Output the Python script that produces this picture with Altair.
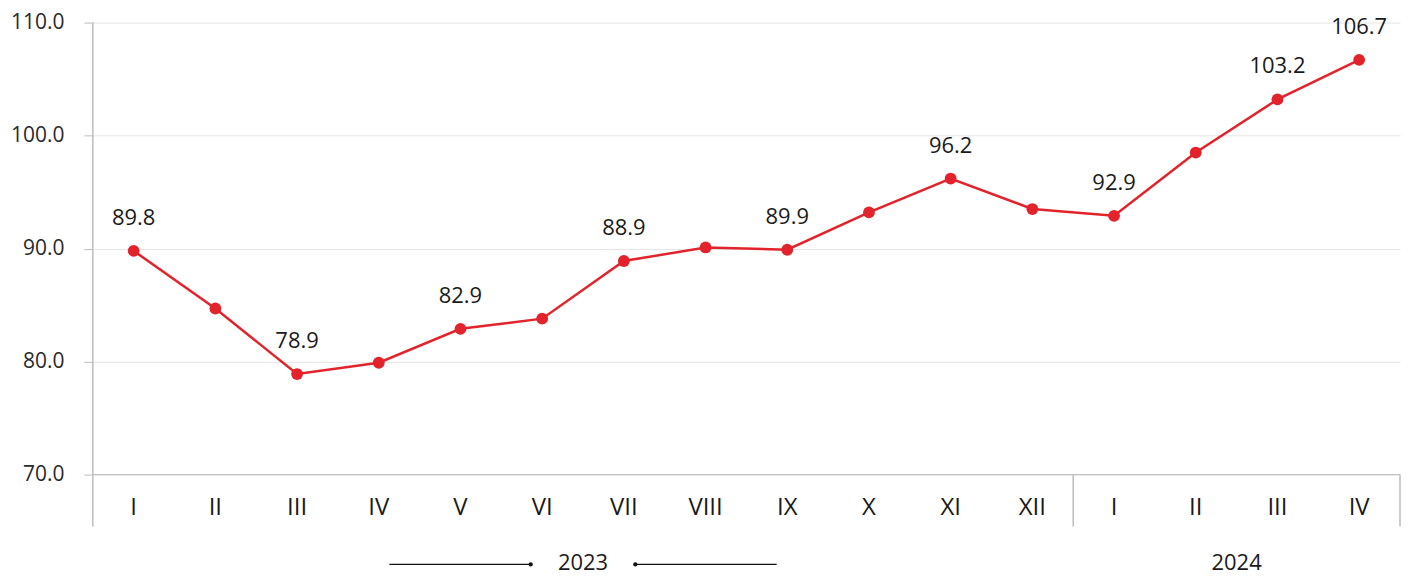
import altair as alt
import pandas as pd

months = ["I", "II", "III", "IV", "V", "VI", "VII", "VIII", "IX", "X", "XI", "XII",
          "I", "II", "III", "IV"]
values = [89.8, 84.7, 78.9, 79.9, 82.9, 83.8, 88.9, 90.1, 89.9, 93.2, 96.2, 93.5,
          92.9, 98.5, 103.2, 106.7]
labeled = [True, False, True, False, True, False, True, False, True, False, True, False,
           True, False, True, True]
year_labels = ["2023", "2024"]
year_counts = [12, 4]
y_ticks = [70, 80, 90, 100, 110]

W, H = 1310, 453
RED = "#E3232B"
FONT = "Open Sans"
GRID = "#bdbdbd"

df = pd.DataFrame({
    "pos": [i + 0.5 for i in range(len(months))],
    "month": months,
    "value": values,
})
ldf = df[[bool(b) for b in labeled]].reset_index(drop=True)

starts, s = [], 0
for c in year_counts:
    starts.append(s)
    s += c
ydf = pd.DataFrame({
    "year": year_labels,
    "start": starts,
    "end": [a + c for a, c in zip(starts, year_counts)],
    "center": [a + c / 2 for a, c in zip(starts, year_counts)],
})

xscale = alt.Scale(domain=[0, sum(year_counts)], nice=False, zero=False)
yscale = alt.Scale(domain=[y_ticks[0], y_ticks[-1]], nice=False, zero=False)

line = alt.Chart(df).mark_line(color=RED, strokeWidth=2.5).encode(
    x=alt.X("pos:Q", scale=xscale, axis=None),
    y=alt.Y("value:Q", scale=yscale, title=None,
            axis=alt.Axis(values=y_ticks, format=".1f", grid=True, gridColor="#e4e4e4",
                          gridWidth=1, domain=False, ticks=True, tickSize=9,
                          tickColor=GRID, labelFont=FONT, labelFontSize=21,
                          labelColor="#2a2a2a", labelPadding=20)),
)
points = alt.Chart(df).mark_circle(color=RED, size=140, opacity=1).encode(
    x=alt.X("pos:Q", scale=xscale), y=alt.Y("value:Q", scale=yscale))
labels = alt.Chart(ldf).mark_text(
    dy=-33, font=FONT, fontSize=22, color="#1a1a1a").encode(
    x=alt.X("pos:Q", scale=xscale), y=alt.Y("value:Q", scale=yscale),
    text=alt.Text("value:Q", format=".1f"))
xlabels = alt.Chart(df).mark_text(font=FONT, fontSize=24, color="#1a1a1a").encode(
    x=alt.X("pos:Q", scale=xscale), y=alt.value(H + 33), text="month:N")

bottom = alt.Chart(pd.DataFrame({"v": [y_ticks[0]]})).mark_rule(color=GRID, strokeWidth=1).encode(
    y=alt.Y("v:Q", scale=yscale))
left_rule = alt.Chart(pd.DataFrame({"b": [0]})).mark_rule(color=GRID, strokeWidth=1.5).encode(
    x=alt.X("b:Q", scale=xscale), y=alt.value(0), y2=alt.value(H + 52))
seps = alt.Chart(ydf).mark_rule(color=GRID, strokeWidth=1.5).encode(
    x=alt.X("end:Q", scale=xscale), y=alt.value(H), y2=alt.value(H + 52))

year_text = alt.Chart(ydf).mark_text(font=FONT, fontSize=22, color="#1a1a1a").encode(
    x=alt.X("center:Q", scale=xscale), y=alt.value(H + 89), text="year:N")

c0 = ydf.center.iloc[0]
deco = pd.DataFrame({
    "a": [c0 - 2.37, c0 + 0.64],
    "b": [c0 - 0.64, c0 + 2.37],
    "dot": [c0 - 0.64, c0 + 0.64],
})
deco_lines = alt.Chart(deco).mark_rule(color="#111111", strokeWidth=1.2).encode(
    x=alt.X("a:Q", scale=xscale), x2="b:Q", y=alt.value(H + 90))
deco_dots = alt.Chart(deco).mark_circle(color="#111111", size=18, opacity=1).encode(
    x=alt.X("dot:Q", scale=xscale), y=alt.value(H + 90))

chart = alt.layer(
    line, bottom, left_rule, seps, points, labels, xlabels, year_text, deco_lines, deco_dots
).properties(
    width=W, height=H,
    padding={"left": 85, "top": 14, "right": 5, "bottom": 102},
    autosize=alt.AutoSizeParams(type="none"),
).configure_view(stroke=None)

chart.save("out.html", embed_options={"renderer": "svg", "actions": False})
